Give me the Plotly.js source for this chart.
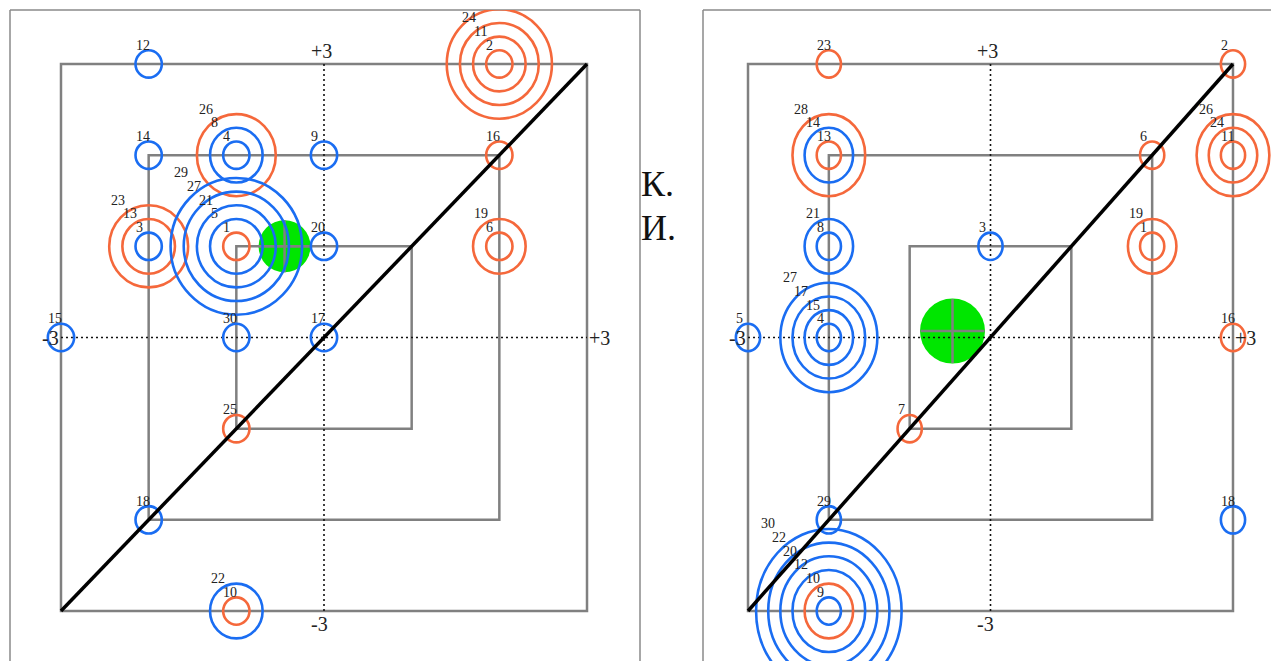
<!DOCTYPE html>
<html><head><meta charset="utf-8">
<script src="https://cdn.plot.ly/plotly-3.0.1.min.js"></script>
<style>html,body{margin:0;padding:0;background:#fff;overflow:hidden}</style>
</head><body><div id="chart" style="width:1271px;height:661px"></div>
<script>
// ---- data ----
const persons = [1,2,3,4,5,6,7,8,9,10,11,12,13,14,15,16,17,18,19,20,21,22,23,24,25,26,27,28,29,30];
const groups  = ['F','F','M','M','M','F','F','M','M','F','F','M','F','M','M','F','M','M','F','M','M','M','F','F','F','F','M','F','M','M'];
const leftX   = [-1, 2,-2,-1,-1, 2,null,-1, 0,-1, 2,-2,-2,-2,-3, 2, 0,-2, 2, 0,-1,-1,-2, 2,-1,-1,-1, 2,-1,-1];
const leftY   = [ 1, 3, 1, 2, 1, 1,null, 2, 2,-3, 3, 3, 1, 2, 0, 2, 0,-2, 1, 1, 1,-3, 1, 3,-1, 2, 1, 3, 1, 0];
const rightX  = [ 2, 3, 0,-2,-3, 2,-1,-2,-2,-2, 3,-2,-2,-2,-2, 3,-2, 3, 2,-2,-2,-2,-2, 3,null, 3,-2,-2,-2,-2];
const rightY  = [ 1, 3, 1, 0, 0, 2,-1, 1,-3,-3, 2,-3, 2, 2, 0, 0, 0,-2, 1,-3, 1,-3, 3, 2,null, 2, 0, 2,-2,-3];
const meanLeft  = [-0.45, 1.0];
const meanRight = [-0.47, 0.07];
const squareHalf = [1, 2, 3];
const axisTicks = {top:'+3', bottom:'-3', left:'-3', right:'+3'};
const sideText = ['К.', 'И.'];

// ---- styles ----
const COLORS = {F:'#F5683B', M:'#1A6DF2'};
const GREEN = '#00E600';
const GRAY = '#808080';
const SERIF = '"Liberation Serif", serif';
const RING_STEP = 0.15;
const W = 1271, H = 661;

const shapes = [];
const annotations = [];

function panel(xs, ys, xr, yr, mean, greenPx){
  squareHalf.forEach(h => shapes.push({type:'rect', xref:xr, yref:yr, x0:-h, x1:h, y0:-h, y1:h,
    line:{color:GRAY, width:2.5}, layer:'above'}));
  shapes.push({type:'line', xref:xr, yref:yr, x0:0, x1:0, y0:-3, y1:3, line:{color:'#111', width:1.6, dash:'2px,3px'}, layer:'above'});
  shapes.push({type:'line', xref:xr, yref:yr, x0:-3, x1:3, y0:0, y1:0, line:{color:'#111', width:1.6, dash:'2px,3px'}, layer:'above'});
  shapes.push({type:'line', xref:xr, yref:yr, xsizemode:'pixel', xanchor:mean[0], x0:-greenPx, x1:greenPx, y0:mean[1], y1:mean[1], line:{color:GRAY, width:2.5}, layer:'above'});
  shapes.push({type:'line', xref:xr, yref:yr, ysizemode:'pixel', yanchor:mean[1], y0:-greenPx, y1:greenPx, x0:mean[0], x1:mean[0], line:{color:GRAY, width:2.5}, layer:'above'});
  const counts = {};
  const order = persons.map((p,i)=>i).filter(i=>xs[i]!==null).sort((a,b)=>persons[a]-persons[b]);
  order.forEach(i => {
    const key = xs[i]+','+ys[i];
    counts[key] = (counts[key]||0) + 1;
    const k = counts[key];
    const r = RING_STEP*k;
    shapes.push({type:'circle', xref:xr, yref:yr, x0:xs[i]-r, x1:xs[i]+r, y0:ys[i]-r, y1:ys[i]+r,
      line:{color:COLORS[groups[i]], width:2.6}, layer:'above'});
    annotations.push({xref:xr, yref:yr, x:xs[i]-0.14*k-0.03, y:ys[i]+r+0.055, text:String(persons[i]),
      xanchor:'left', yanchor:'middle', showarrow:false, font:{family:SERIF, size:14, color:'#222'}});
  });
  shapes.push({type:'line', xref:xr, yref:yr, x0:-3, y0:-3, x1:3, y1:3, line:{color:'#000', width:3.5}, layer:'above'});
  const f = {family:SERIF, size:20, color:'#222'};
  annotations.push({xref:xr, yref:yr, x:0, y:3, text:axisTicks.top, xanchor:'center', yanchor:'bottom', xshift:-3, showarrow:false, font:f});
  annotations.push({xref:xr, yref:yr, x:0, y:-3, text:axisTicks.bottom, xanchor:'center', yanchor:'top', xshift:-5, showarrow:false, font:f});
  annotations.push({xref:xr, yref:yr, x:-3, y:0, text:axisTicks.left, xanchor:'right', yanchor:'middle', showarrow:false, font:f});
  annotations.push({xref:xr, yref:yr, x:3, y:0, text:axisTicks.right, xanchor:'left', yanchor:'middle', showarrow:false, font:f});
}

panel(leftX, leftY, 'x', 'y', meanLeft, 26);
panel(rightX, rightY, 'x2', 'y2', meanRight, 32);

const topP = 1 - 10/H;
const fr = {color:'#8a8a8a', width:1.5};
shapes.unshift(
  {type:'line', xref:'paper', yref:'paper', x0:10/W, x1:10/W, y0:-0.01, y1:topP, line:fr},
  {type:'line', xref:'paper', yref:'paper', x0:640/W, x1:640/W, y0:-0.01, y1:topP, line:fr},
  {type:'line', xref:'paper', yref:'paper', x0:10/W, x1:640/W, y0:topP, y1:topP, line:fr},
  {type:'line', xref:'paper', yref:'paper', x0:703/W, x1:703/W, y0:-0.01, y1:topP, line:fr},
  {type:'line', xref:'paper', yref:'paper', x0:703/W, x1:1.01, y0:topP, y1:topP, line:fr}
);

annotations.push({xref:'paper', yref:'paper', x:639/W, y:1-184/H, text:sideText[0], xanchor:'left', yanchor:'middle', showarrow:false, font:{family:SERIF, size:36, color:'#111'}});
annotations.push({xref:'paper', yref:'paper', x:639/W, y:1-228/H, text:sideText[1], xanchor:'left', yanchor:'middle', showarrow:false, font:{family:SERIF, size:36, color:'#111'}});

const traces = [
  {x:[meanLeft[0]], y:[meanLeft[1]], xaxis:'x', yaxis:'y', mode:'markers', marker:{size:52, color:GREEN, line:{width:0}}, hoverinfo:'skip', showlegend:false},
  {x:[meanRight[0]], y:[meanRight[1]], xaxis:'x2', yaxis:'y2', mode:'markers', marker:{size:65, color:GREEN, line:{width:0}}, hoverinfo:'skip', showlegend:false}
];

const lx = {c:324, u:87.67}, rx = {c:990.5, u:80.83}, yy = {c:337.5, u:91.17};
const layout = {
  width:W, height:H, autosize:false, margin:{l:0,r:0,t:0,b:0},
  paper_bgcolor:'#fff', plot_bgcolor:'rgba(0,0,0,0)', showlegend:false,
  xaxis:{domain:[10/W, 640/W], range:[(10-lx.c)/lx.u, (640-lx.c)/lx.u], visible:false, fixedrange:true},
  yaxis:{domain:[0, topP], range:[(yy.c-661)/yy.u, (yy.c-10)/yy.u], visible:false, fixedrange:true},
  xaxis2:{domain:[703/W, 1], range:[(703-rx.c)/rx.u, (1271-rx.c)/rx.u], visible:false, fixedrange:true, anchor:'y2'},
  yaxis2:{domain:[0, topP], range:[(yy.c-661)/yy.u, (yy.c-10)/yy.u], visible:false, fixedrange:true, anchor:'x2'},
  shapes:shapes, annotations:annotations
};
Plotly.newPlot('chart', traces, layout, {displayModeBar:false, staticPlot:true});
</script></body></html>
